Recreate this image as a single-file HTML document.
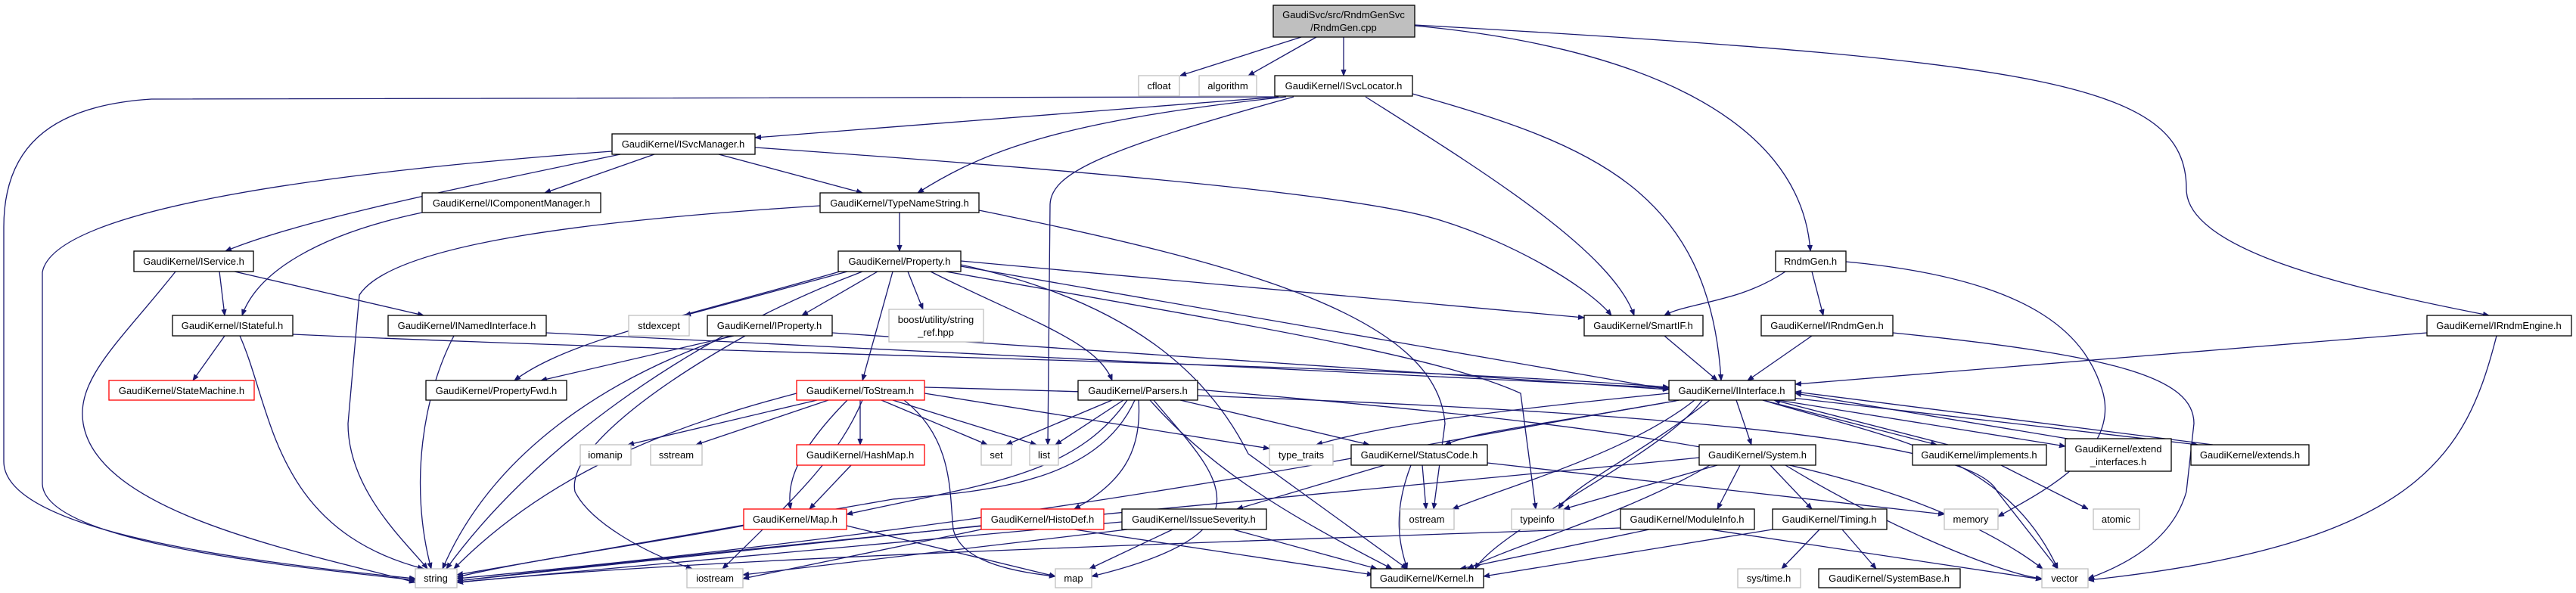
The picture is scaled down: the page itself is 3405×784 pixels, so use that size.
<!DOCTYPE html>
<html><head><meta charset="utf-8"><style>
html,body{margin:0;padding:0;background:#fff}
svg{display:block}
text{font-family:"Liberation Sans",sans-serif;font-size:13px;fill:#000;text-anchor:middle}
.e{fill:none;stroke:#191970;stroke-width:1.3}
.n{fill:#fff;stroke:#000;stroke-width:1.3}
.g{fill:#fff;stroke:#bfbfbf;stroke-width:1.3}
.r{fill:#fff;stroke:#ff0000;stroke-width:1.3}
</style></head><body>
<svg width="3405" height="784" viewBox="0 0 3405 784" xmlns="http://www.w3.org/2000/svg">
<defs><marker id="a" viewBox="0 0 10 10" refX="10" refY="5" markerWidth="8" markerHeight="8" orient="auto" markerUnits="userSpaceOnUse"><path d="M0,1 L10,5 L0,9 z" fill="#191970" stroke="#191970"/></marker></defs>
<g class="e" marker-end="url(#a)">
<path d="M1720,49 L1560,100"/>
<path d="M1740,49 L1650,100"/>
<path d="M1776,49 L1776,100"/>
<path d="M1870,34 C2150,60 2380,150 2393,332"/>
<path d="M1870,33 C2700,80 2890,110 2890,250 C2890,330 3100,380 3290,417"/>
<path d="M1685,128 L200,131 C60,140 5,200 5,300 L5,610 C5,700 300,740 549,765"/>
<path d="M1690,128 L998,182"/>
<path d="M1700,128 C1400,160 1300,200 1213,255"/>
<path d="M1710,128 C1450,200 1390,230 1388,270 L1385,588"/>
<path d="M1805,128 C1950,220 2130,330 2160,417"/>
<path d="M1867,124 C2100,190 2260,250 2275,503"/>
<path d="M809,200 C400,230 70,280 56,360 L56,640 C60,720 400,750 549,767"/>
<path d="M820,204 C600,250 400,290 298,332"/>
<path d="M865,204 L720,255"/>
<path d="M950,204 L1140,255"/>
<path d="M998,195 C1500,230 1800,260 1900,290 C2000,320 2100,380 2130,417"/>
<path d="M558,281 C420,310 340,360 320,417"/>
<path d="M1084,272 C800,290 520,320 475,390 L460,560 C460,650 540,720 565,752"/>
<path d="M1189,281 L1189,332"/>
<path d="M1294,278 C1650,350 1900,420 1910,560 L1895,673"/>
<path d="M290,359 L297,417"/>
<path d="M310,359 L560,417"/>
<path d="M232,359 C160,450 100,500 110,560 C130,680 400,730 549,770"/>
<path d="M1120,359 L905,417"/>
<path d="M1200,359 L1220,409"/>
<path d="M1160,359 L1060,417"/>
<path d="M1110,359 C900,420 750,450 680,503"/>
<path d="M1180,359 L1140,503"/>
<path d="M1230,359 C1350,420 1450,450 1470,503"/>
<path d="M1270,345 L2094,420"/>
<path d="M1270,350 C1500,400 1600,500 1650,600 L1860,752"/>
<path d="M1250,359 C1650,430 1900,470 2010,520 L2030,673"/>
<path d="M1140,359 C900,450 700,600 590,752"/>
<path d="M1270,352 L2206,515"/>
<path d="M297,444 L255,503"/>
<path d="M317,444 C360,540 360,700 560,752"/>
<path d="M387,442 C1000,470 1800,480 2206,512"/>
<path d="M600,444 C560,520 540,640 570,752"/>
<path d="M722,440 L2206,513"/>
<path d="M970,444 L715,503"/>
<path d="M965,444 C800,500 650,600 585,752"/>
<path d="M985,444 C850,520 750,600 760,650 C780,690 850,730 915,752"/>
<path d="M1100,440 L2206,515"/>
<path d="M1053,520 C900,560 730,620 600,752"/>
<path d="M1080,529 L830,588"/>
<path d="M1095,529 L920,588"/>
<path d="M1137,529 L1137,588"/>
<path d="M1120,529 C1050,600 1040,640 1045,673"/>
<path d="M1165,529 L1305,588"/>
<path d="M1180,529 L1370,588"/>
<path d="M1195,529 C1260,580 1255,650 1260,700 C1270,740 1330,755 1395,762"/>
<path d="M1222,520 L1678,593"/>
<path d="M1140,529 C1110,600 1060,650 955,752"/>
<path d="M1222,512 C1900,530 2600,560 2640,650 L2720,752"/>
<path d="M1125,615 L1070,673"/>
<path d="M1119,695 L1395,762"/>
<path d="M983,695 C850,720 700,740 604,763"/>
<path d="M1470,529 L1330,588"/>
<path d="M1485,529 L1395,588"/>
<path d="M1490,529 C1420,630 1300,640 1119,680"/>
<path d="M1505,529 C1510,600 1480,640 1420,673"/>
<path d="M1500,529 C1450,640 1300,650 1180,660 L604,760"/>
<path d="M1525,529 C1600,620 1700,700 1443,762"/>
<path d="M1520,529 C1600,620 1700,680 1840,752"/>
<path d="M1560,529 L1810,588"/>
<path d="M1583,515 C2100,560 2500,600 2700,752"/>
<path d="M2206,520 C1900,550 1800,570 1740,588"/>
<path d="M2220,529 C2050,560 1950,570 1910,588"/>
<path d="M2295,529 L2315,588"/>
<path d="M2240,529 C2150,600 2000,640 1920,673"/>
<path d="M2260,529 C2170,600 2080,640 2060,673"/>
<path d="M2250,529 C2200,600 1980,700 1950,752"/>
<path d="M2330,529 L2560,588"/>
<path d="M2350,529 L2730,590"/>
<path d="M2360,525 L2905,588"/>
<path d="M2330,529 C2500,580 2650,600 2720,752"/>
<path d="M2215,530 C1800,600 1400,690 604,765"/>
<path d="M1830,615 L1635,673"/>
<path d="M1880,615 L1885,673"/>
<path d="M1865,615 C1840,680 1850,720 1860,752"/>
<path d="M1966,612 L2570,680"/>
<path d="M2246,605 C1900,640 1200,700 604,768"/>
<path d="M2270,615 L2067,673"/>
<path d="M2260,615 C2150,680 2000,720 1940,752"/>
<path d="M2300,615 L2270,673"/>
<path d="M2340,615 L2395,673"/>
<path d="M2360,615 C2500,700 2650,760 2699,765"/>
<path d="M2405,700 L2355,752"/>
<path d="M2435,700 L2480,752"/>
<path d="M2343,700 L1961,762"/>
<path d="M2142,698 C1500,720 900,740 604,770"/>
<path d="M2180,700 L1930,752"/>
<path d="M2260,700 L2699,766"/>
<path d="M1483,690 L604,770"/>
<path d="M1550,700 L1440,752"/>
<path d="M1630,700 L1820,752"/>
<path d="M1490,700 L982,760"/>
<path d="M1297,695 L604,768"/>
<path d="M1420,700 L1815,760"/>
<path d="M1297,700 L982,765"/>
<path d="M2645,615 L2760,673"/>
<path d="M2360,359 C2300,400 2230,400 2200,417"/>
<path d="M2395,359 L2410,417"/>
<path d="M2440,346 C2700,370 2760,450 2780,520 C2800,600 2700,650 2641,683"/>
<path d="M2395,444 L2310,503"/>
<path d="M2502,440 C2800,470 2900,500 2900,560 L2890,650 C2870,720 2800,750 2760,765"/>
<path d="M3208,440 L2373,508"/>
<path d="M3300,444 C3260,600 3200,720 2760,767"/>
<path d="M2200,444 L2270,503"/>
<path d="M2575,588 L2345,529"/>
<path d="M2745,582 L2373,520"/>
<path d="M2925,588 L2373,518"/>
</g>
<g>
<rect class="n" x="1683" y="7" width="187" height="42" style="fill:#bfbfbf"/><text x="1776" y="24">GaudiSvc/src/RndmGenSvc</text><text x="1776" y="41">/RndmGen.cpp</text>
<rect class="g" x="1505" y="100" width="54" height="27"/><text x="1532" y="118">cfloat</text>
<rect class="g" x="1585" y="100" width="76" height="27"/><text x="1623" y="118">algorithm</text>
<rect class="n" x="1685" y="100" width="182" height="27"/><text x="1776" y="118">GaudiKernel/ISvcLocator.h</text>
<rect class="n" x="809" y="177" width="189" height="27"/><text x="903" y="195">GaudiKernel/ISvcManager.h</text>
<rect class="n" x="558" y="255" width="236" height="26"/><text x="676" y="273">GaudiKernel/IComponentManager.h</text>
<rect class="n" x="1084" y="255" width="210" height="26"/><text x="1189" y="273">GaudiKernel/TypeNameString.h</text>
<rect class="n" x="177" y="332" width="158" height="27"/><text x="256" y="350">GaudiKernel/IService.h</text>
<rect class="n" x="1108" y="332" width="162" height="27"/><text x="1189" y="350">GaudiKernel/Property.h</text>
<rect class="n" x="2347" y="332" width="93" height="27"/><text x="2393" y="350">RndmGen.h</text>
<rect class="n" x="228" y="417" width="159" height="27"/><text x="307" y="435">GaudiKernel/IStateful.h</text>
<rect class="n" x="513" y="417" width="209" height="27"/><text x="617" y="435">GaudiKernel/INamedInterface.h</text>
<rect class="g" x="831" y="417" width="80" height="27"/><text x="871" y="435">stdexcept</text>
<rect class="n" x="935" y="417" width="165" height="27"/><text x="1017" y="435">GaudiKernel/IProperty.h</text>
<rect class="g" x="1175" y="409" width="125" height="43"/><text x="1237" y="427">boost/utility/string</text><text x="1237" y="444">_ref.hpp</text>
<rect class="n" x="2094" y="417" width="157" height="27"/><text x="2172" y="435">GaudiKernel/SmartIF.h</text>
<rect class="n" x="2328" y="417" width="174" height="27"/><text x="2415" y="435">GaudiKernel/IRndmGen.h</text>
<rect class="n" x="3208" y="417" width="191" height="27"/><text x="3303" y="435">GaudiKernel/IRndmEngine.h</text>
<rect class="r" x="144" y="503" width="192" height="26"/><text x="240" y="521">GaudiKernel/StateMachine.h</text>
<rect class="n" x="563" y="503" width="186" height="26"/><text x="656" y="521">GaudiKernel/PropertyFwd.h</text>
<rect class="r" x="1053" y="503" width="169" height="26"/><text x="1137" y="521">GaudiKernel/ToStream.h</text>
<rect class="n" x="1425" y="503" width="158" height="26"/><text x="1504" y="521">GaudiKernel/Parsers.h</text>
<rect class="n" x="2206" y="503" width="167" height="26"/><text x="2289" y="521">GaudiKernel/IInterface.h</text>
<rect class="g" x="767" y="588" width="67" height="27"/><text x="800" y="606">iomanip</text>
<rect class="g" x="860" y="588" width="68" height="27"/><text x="894" y="606">sstream</text>
<rect class="r" x="1053" y="588" width="169" height="27"/><text x="1137" y="606">GaudiKernel/HashMap.h</text>
<rect class="g" x="1297" y="588" width="40" height="27"/><text x="1317" y="606">set</text>
<rect class="g" x="1361" y="588" width="38" height="27"/><text x="1380" y="606">list</text>
<rect class="g" x="1678" y="588" width="84" height="27"/><text x="1720" y="606">type_traits</text>
<rect class="n" x="1786" y="588" width="180" height="27"/><text x="1876" y="606">GaudiKernel/StatusCode.h</text>
<rect class="n" x="2246" y="588" width="154" height="27"/><text x="2323" y="606">GaudiKernel/System.h</text>
<rect class="n" x="2528" y="588" width="177" height="27"/><text x="2616" y="606">GaudiKernel/implements.h</text>
<rect class="n" x="2730" y="580" width="140" height="43"/><text x="2800" y="598">GaudiKernel/extend</text><text x="2800" y="615">_interfaces.h</text>
<rect class="n" x="2896" y="588" width="156" height="27"/><text x="2974" y="606">GaudiKernel/extends.h</text>
<rect class="r" x="983" y="673" width="136" height="27"/><text x="1051" y="691">GaudiKernel/Map.h</text>
<rect class="r" x="1297" y="673" width="162" height="27"/><text x="1378" y="691">GaudiKernel/HistoDef.h</text>
<rect class="n" x="1483" y="673" width="191" height="27"/><text x="1578" y="691">GaudiKernel/IssueSeverity.h</text>
<rect class="g" x="1851" y="673" width="71" height="27"/><text x="1886" y="691">ostream</text>
<rect class="g" x="1998" y="673" width="69" height="27"/><text x="2032" y="691">typeinfo</text>
<rect class="n" x="2142" y="673" width="177" height="27"/><text x="2230" y="691">GaudiKernel/ModuleInfo.h</text>
<rect class="n" x="2343" y="673" width="151" height="27"/><text x="2418" y="691">GaudiKernel/Timing.h</text>
<rect class="g" x="2570" y="673" width="71" height="27"/><text x="2605" y="691">memory</text>
<rect class="g" x="2767" y="673" width="61" height="27"/><text x="2797" y="691">atomic</text>
<rect class="g" x="549" y="752" width="55" height="25"/><text x="576" y="769">string</text>
<rect class="g" x="908" y="752" width="74" height="25"/><text x="945" y="769">iostream</text>
<rect class="g" x="1395" y="752" width="48" height="25"/><text x="1419" y="769">map</text>
<rect class="n" x="1812" y="752" width="149" height="25"/><text x="1886" y="769">GaudiKernel/Kernel.h</text>
<rect class="g" x="2297" y="752" width="83" height="25"/><text x="2338" y="769">sys/time.h</text>
<rect class="n" x="2404" y="752" width="187" height="25"/><text x="2497" y="769">GaudiKernel/SystemBase.h</text>
<rect class="g" x="2699" y="752" width="61" height="25"/><text x="2729" y="769">vector</text>
</g>
</svg>
</body></html>
